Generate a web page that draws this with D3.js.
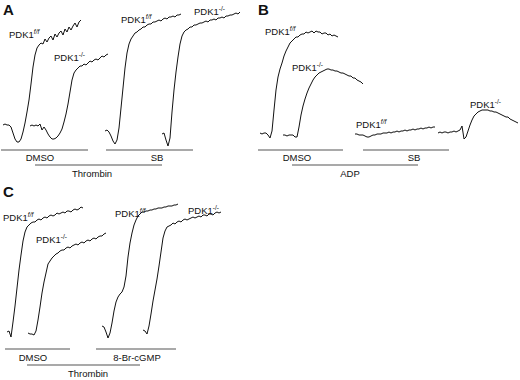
<!DOCTYPE html>
<html>
<head>
<meta charset="utf-8">
<script src="https://cdn.jsdelivr.net/npm/d3@7"></script>
<style>
  html, body { margin: 0; padding: 0; background: #fff; }
  svg { display: block; font-family: Arial, "Liberation Sans", Helvetica, sans-serif; }
</style>
</head>
<body>
<svg id="chart" width="520" height="380"></svg>
<script>
// ---------- DATA ----------
// Aggregation signal (a.u., baseline = 0) sampled every 8 s for each trace.
const sampleStep = 8; // seconds between samples

// Panel A: Thrombin, DMSO vs SB
const traceA_ff_DMSO = [5,6,5,5,3,-3,-9,-12,-12,-9,-2,7,18,30,46,63,75,82,85,87,86,91,88,92,94,90,96,93,97,99,95,101,98,103,100,104,107,103,108,110];
const traceA_ko_DMSO = [4,5,4,5,4,6,0,3,0,-4,-7,-9,-9,-8,-6,-3,1,8,16,26,38,50,57,60,62,64,64,66,65,67,69,68,70,71,70,72,74,73,75,76];
const traceA_ff_SB   = [-1,0,-2,-6,-11,-14,-10,2,22,42,62,77,86,91,94,97,98,100,101,103,103,105,106,106,108,108,109,110,109,111,112,111,113,113,114,113,115,115,116];
const traceA_ko_SB   = [-4,-3,-10,-16,-8,18,40,58,73,86,94,98,100,101,103,103,105,105,106,107,107,108,109,108,110,110,111,110,112,112,113,112,114,114,115,115,116,117,116,118];

// Panel B: ADP, DMSO vs SB
const traceB_ff_DMSO = [0,-1,0,0,-2,-5,2,23,43,56,64,70,77,82,86,90,92,94,96,96,98,99,99,101,100,101,102,100,102,101,101,99,100,100,98,99,97,98,97,96];
const traceB_ko_DMSO = [-2,-2,-3,-2,-2,-2,-4,-4,6,18,27,34,40,45,49,53,56,58,60,61,62,63,64,64,63,63,62,62,61,60,60,59,58,57,57,55,55,53,52,51,49];
const traceB_ff_SB   = [-1,-1,-2,-2,-2,-3,-4,-4,-3,-2,-2,-1,-1,-1,0,0,0,1,0,1,1,2,1,2,2,3,2,3,3,4,3,4,4,5,4,5,5,6,5,6,6];
const traceB_ko_SB   = [0,1,0,1,1,0,1,1,2,1,2,3,7,-6,-4,2,8,13,17,19,21,22,23,23,23,23,22,22,21,21,20,19,18,17,16,16,14,13,12,11,10];

// Panel C: Thrombin, DMSO vs 8-Br-cGMP
const traceC_ff_DMSO = [0,1,-5,10,26,44,62,77,91,100,105,107,109,110,110,112,113,112,114,115,114,116,117,116,117,119,118,119,120,119,121,121,120,122,123,122,123,125,124];
const traceC_ko_DMSO = [-1,-2,-2,-3,1,12,25,39,50,59,68,71,74,76,78,79,81,82,82,84,85,84,86,87,88,87,89,90,89,91,92,91,93,94,93,95,96,96,98,99];
const traceC_ff_cGMP = [6,5,0,-6,-1,9,21,30,35,38,40,45,56,75,89,99,107,112,116,118,120,120,121,121,122,122,123,123,124,124,124,125,125,126,126,126,127,127,128];
const traceC_ko_cGMP = [2,1,-2,6,18,31,42,53,66,80,94,101,105,106,107,109,108,110,111,110,112,113,112,113,114,115,114,115,116,115,117,117,116,118,118,117,119,120,119,120];

// Text
const panelLetters = ["A", "B", "C"];
const genotypeBase = "PDK1";
const genotypeSup = ["f/f", "-/-"];
const treatmentLabels = [["DMSO", "SB"], ["DMSO", "SB"], ["DMSO", "8-Br-cGMP"]];
const agonistLabels = ["Thrombin", "ADP", "Thrombin"];

// ---------- LAYOUT (positions only) ----------
const pxPerSecond = 0.25;
const panels = [
  { letter: [3, 15], baseY: 130,
    traces: [
      { data: traceA_ff_DMSO, x0: 3,   g: 0, label: [9, 38] },
      { data: traceA_ko_DMSO, x0: 30,  g: 1, label: [54, 61] },
      { data: traceA_ff_SB,   x0: 105, g: 0, label: [121, 23] },
      { data: traceA_ko_SB,   x0: 162, g: 1, label: [194, 15] }
    ],
    bars: [[1, 88, 150], [106, 193, 150]], treatText: [[40, 161], [157, 161]],
    agonistBar: [35, 162, 165], agonistText: [92, 177] },
  { letter: [258, 15], baseY: 133,
    traces: [
      { data: traceB_ff_DMSO, x0: 260, g: 0, label: [265, 35] },
      { data: traceB_ko_DMSO, x0: 283, g: 1, label: [292, 71] },
      { data: traceB_ff_SB,   x0: 355, g: 0, label: [356, 128] },
      { data: traceB_ko_SB,   x0: 438, g: 1, label: [470, 108] }
    ],
    bars: [[258, 343, 150], [363, 449, 150]], treatText: [[297, 161], [414, 161]],
    agonistBar: [292, 418, 165], agonistText: [350, 177] },
  { letter: [3, 197], baseY: 332,
    traces: [
      { data: traceC_ff_DMSO, x0: 7,   g: 0, label: [3, 221] },
      { data: traceC_ko_DMSO, x0: 28,  g: 1, label: [36, 243] },
      { data: traceC_ff_cGMP, x0: 102, g: 0, label: [115, 217] },
      { data: traceC_ko_cGMP, x0: 143, g: 1, label: [188, 214] }
    ],
    bars: [[5, 70, 349], [96, 176, 349]], treatText: [[33, 361], [137, 361]],
    agonistBar: [27, 140, 365], agonistText: [88, 377] }
];

// ---------- DRAW ----------
const svg = d3.select("#chart");

panels.forEach((p, pi) => {
  const g = svg.append("g");
  const y = d3.scaleLinear().domain([0, 100]).range([p.baseY, p.baseY - 100]);

  g.append("text").attr("x", p.letter[0]).attr("y", p.letter[1])
    .attr("font-size", 15).attr("font-weight", "bold").attr("fill", "#111")
    .text(panelLetters[pi]);

  p.traces.forEach(tr => {
    const tMax = (tr.data.length - 1) * sampleStep;
    const x = d3.scaleLinear().domain([0, tMax]).range([tr.x0, tr.x0 + tMax * pxPerSecond]);
    const line = d3.line().x((d, i) => x(i * sampleStep)).y(d => y(d));
    g.append("path").datum(tr.data).attr("d", line)
      .attr("fill", "none").attr("stroke", "#111").attr("stroke-width", 1)
      .attr("stroke-linejoin", "round");

    const t = g.append("text").attr("x", tr.label[0]).attr("y", tr.label[1])
      .attr("font-size", 9.5).attr("fill", "#111");
    t.append("tspan").text(genotypeBase);
    t.append("tspan").attr("font-size", 6.5).attr("dy", -4)
      .attr("font-style", tr.g === 0 ? "italic" : "normal")
      .text(genotypeSup[tr.g]);
  });

  p.bars.forEach((b, bi) => {
    g.append("line").attr("x1", b[0]).attr("x2", b[1]).attr("y1", b[2]).attr("y2", b[2])
      .attr("stroke", "#555").attr("stroke-width", 1.2);
    g.append("text").attr("x", p.treatText[bi][0]).attr("y", p.treatText[bi][1])
      .attr("text-anchor", "middle").attr("font-size", 9.5).attr("fill", "#111")
      .text(treatmentLabels[pi][bi]);
  });

  const a = p.agonistBar;
  g.append("line").attr("x1", a[0]).attr("x2", a[1]).attr("y1", a[2]).attr("y2", a[2])
    .attr("stroke", "#555").attr("stroke-width", 1.2);
  g.append("text").attr("x", p.agonistText[0]).attr("y", p.agonistText[1])
    .attr("text-anchor", "middle").attr("font-size", 9.5).attr("fill", "#111")
    .text(agonistLabels[pi]);
});
</script>
</body>
</html>
